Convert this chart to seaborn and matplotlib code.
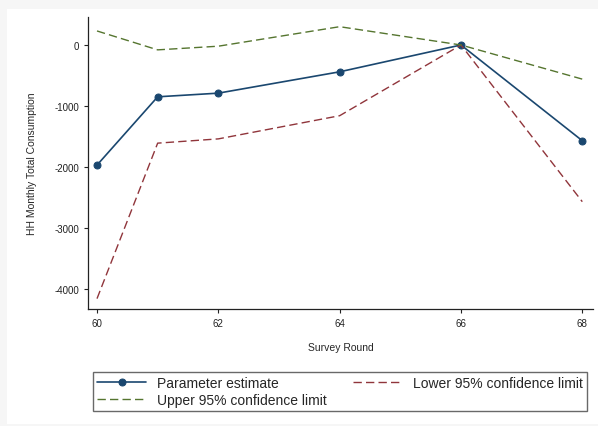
import numpy as np
import pandas as pd
import matplotlib
matplotlib.use("Agg")
import matplotlib.pyplot as plt
import seaborn as sns

rounds = [60, 61, 62, 64, 66, 68]
estimate = [-1970, -850, -790, -440, 0, -1570]
lower_ci = [-4160, -1610, -1540, -1160, 0, -2570]
upper_ci = [230, -80, -20, 300, 0, -560]

x_ticks = [60, 62, 64, 66, 68]
y_ticks = [0, -1000, -2000, -3000, -4000]

sns.set_style("white")
plt.rcParams['font.family'] = ['Liberation Sans', 'DejaVu Sans']
plt.rcParams['axes.unicode_minus'] = False

df = pd.DataFrame({"round": rounds, "est": estimate, "lo": lower_ci, "hi": upper_ci})

fig = plt.figure(figsize=(5.98, 4.27), dpi=100, facecolor="#f6f6f6")
# faint outer frame like the exported graph
fig.patches.append(plt.Rectangle((0.012, 0.005), 0.988, 0.972, transform=fig.transFigure,
                                 facecolor="white", edgecolor="none", zorder=-1))
ax = fig.add_axes([0.147, 0.274, 0.845, 0.684])
ax.set_facecolor("white")

navy = "#1a476f"
maroon = "#90353b"
green = "#55752f"

sns.lineplot(data=df, x="round", y="est", ax=ax, color=navy, lw=1.2,
             marker="o", markersize=5, markeredgecolor=navy, label="Parameter estimate")
sns.lineplot(data=df, x="round", y="lo", ax=ax, color=maroon, lw=1.0,
             label="Lower 95% confidence limit")
sns.lineplot(data=df, x="round", y="hi", ax=ax, color=green, lw=1.0,
             label="Upper 95% confidence limit")
ax.lines[1].set_linestyle((0, (6, 3)))
ax.lines[2].set_linestyle((0, (6, 3)))

ax.set_xlim(59.85, 68.18)
ax.set_ylim(-4330, 460)
ax.set_xticks(x_ticks)
ax.set_yticks(y_ticks)
ax.tick_params(axis="both", labelsize=7, length=3, width=0.8, direction="out",
               left=True, bottom=True, colors="#222222")
sns.despine(ax=ax)
for s in ["left", "bottom"]:
    ax.spines[s].set_color("#222222")
    ax.spines[s].set_linewidth(0.9)

ax.set_xlabel("Survey Round", fontsize=7.5, labelpad=10)
ax.set_ylabel("HH Monthly Total Consumption", fontsize=7.5, labelpad=12)

h, l = ax.get_legend_handles_labels()
ax.get_legend().remove()
order = [0, 2, 1]
fig.legend([h[i] for i in order], [l[i] for i in order], ncol=2,
           loc="lower left", bbox_to_anchor=(0.156, 0.035, 0.826, 0.115),
           mode="expand", fontsize=10, frameon=True, fancybox=False,
           edgecolor="#444444", handlelength=3.5, borderpad=0.3,
           labelspacing=0.2, borderaxespad=0)

fig.savefig("out.png", dpi=100, facecolor=fig.get_facecolor())
